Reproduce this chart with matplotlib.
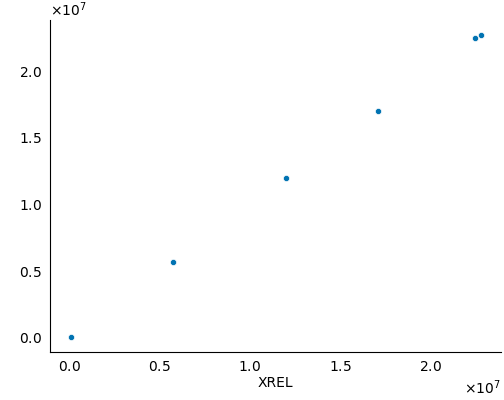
import matplotlib
matplotlib.use("Agg")
import matplotlib.pyplot as plt
from matplotlib.ticker import ScalarFormatter

x_vals = [0.0055e7, 0.572e7, 1.197e7, 1.71e7, 2.246e7, 2.277e7]
y_vals = [0.0075e7, 0.566e7, 1.199e7, 1.703e7, 2.247e7, 2.27e7]
x_label = "XREL"

fig = plt.figure(figsize=(5.04, 4.0), dpi=100)
ax = fig.add_axes([50/504, 48/400, (501-50)/504, (352-20)/400])
ax.scatter(x_vals, y_vals, s=20, color="#0173b2", edgecolor="white", linewidth=0.5)
ax.set_xlabel(x_label, labelpad=1)
for axis in (ax.xaxis, ax.yaxis):
    fmt = ScalarFormatter(useMathText=True)
    axis.set_major_formatter(fmt)
ax.spines["top"].set_visible(False)
ax.spines["right"].set_visible(False)
ax.tick_params(length=0, pad=6)
fig.savefig("out.png", dpi=100)
